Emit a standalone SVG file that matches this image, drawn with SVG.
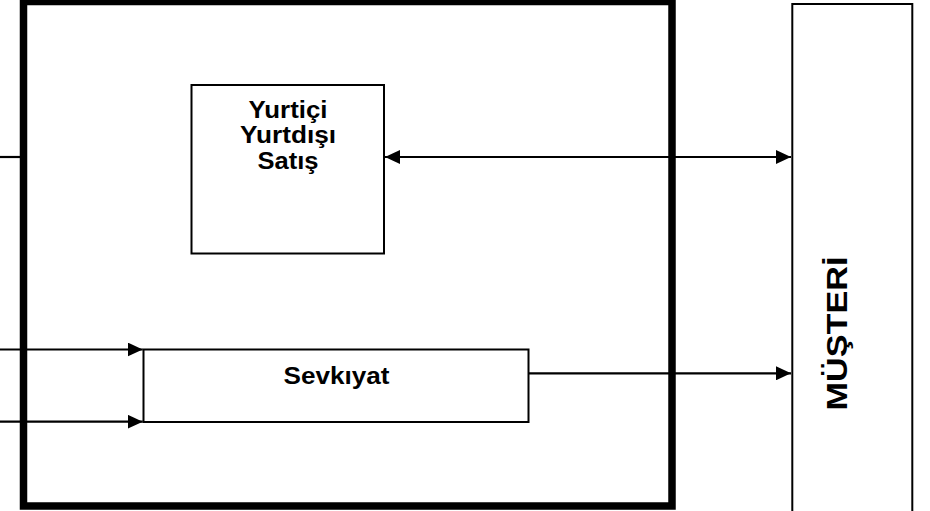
<svg xmlns="http://www.w3.org/2000/svg" width="930" height="511" viewBox="0 0 930 511">
  <defs>
    <style>
      .box { fill: #ffffff; stroke: #000000; stroke-width: 2; }
      .frame { fill: none; stroke: #000000; stroke-width: 7.5; }
      .conn { fill: none; stroke: #000000; stroke-width: 2.2; }
      .lbl { font-family: "Liberation Sans", Arial, sans-serif; font-weight: bold; font-size: 23.5px; fill: #000000; text-anchor: middle; }
    </style>
    <marker id="arrow" markerUnits="userSpaceOnUse" markerWidth="16" markerHeight="14" refX="15" refY="7" orient="auto-start-reverse">
      <path d="M0,0 L15,7 L0,14 z" fill="#000000"/>
    </marker>
  </defs>
  <rect x="0" y="0" width="930" height="511" fill="#ffffff"/>

  <g id="frame">
    <rect class="frame" x="23.5" y="1.5" width="648.5" height="504.5"/>
  </g>

  <g id="node-satis">
    <rect class="box" x="191.5" y="85" width="192.5" height="168.5"/>
    <text class="lbl" x="288" y="118" textLength="79" lengthAdjust="spacingAndGlyphs">Yurtiçi</text>
    <text class="lbl" x="288" y="143.3" textLength="96" lengthAdjust="spacingAndGlyphs">Yurtdışı</text>
    <text class="lbl" x="288" y="168.6" textLength="61" lengthAdjust="spacingAndGlyphs">Satış</text>
  </g>

  <g id="node-sevkiyat">
    <rect class="box" x="143.5" y="349.5" width="385" height="72.5"/>
    <text class="lbl" x="336.5" y="383.5" textLength="106" lengthAdjust="spacingAndGlyphs">Sevkıyat</text>
  </g>

  <g id="node-musteri">
    <rect class="box" x="792.3" y="4" width="120" height="530"/>
    <text class="lbl" style="font-size:29px" transform="translate(846.5,333.5) rotate(-90)" x="0" y="0" textLength="154" lengthAdjust="spacingAndGlyphs">MÜŞTERİ</text>
  </g>

  <g id="connectors">
    <line class="conn" x1="0" y1="157" x2="20" y2="157"/>
    <line class="conn" x1="385" y1="157" x2="791" y2="157" marker-start="url(#arrow)" marker-end="url(#arrow)"/>
    <line class="conn" x1="0" y1="349.5" x2="142.7" y2="349.5" marker-end="url(#arrow)"/>
    <line class="conn" x1="0" y1="421.7" x2="142.7" y2="421.7" marker-end="url(#arrow)"/>
    <line class="conn" x1="529" y1="373.3" x2="791" y2="373.3" marker-end="url(#arrow)"/>
  </g>
</svg>
